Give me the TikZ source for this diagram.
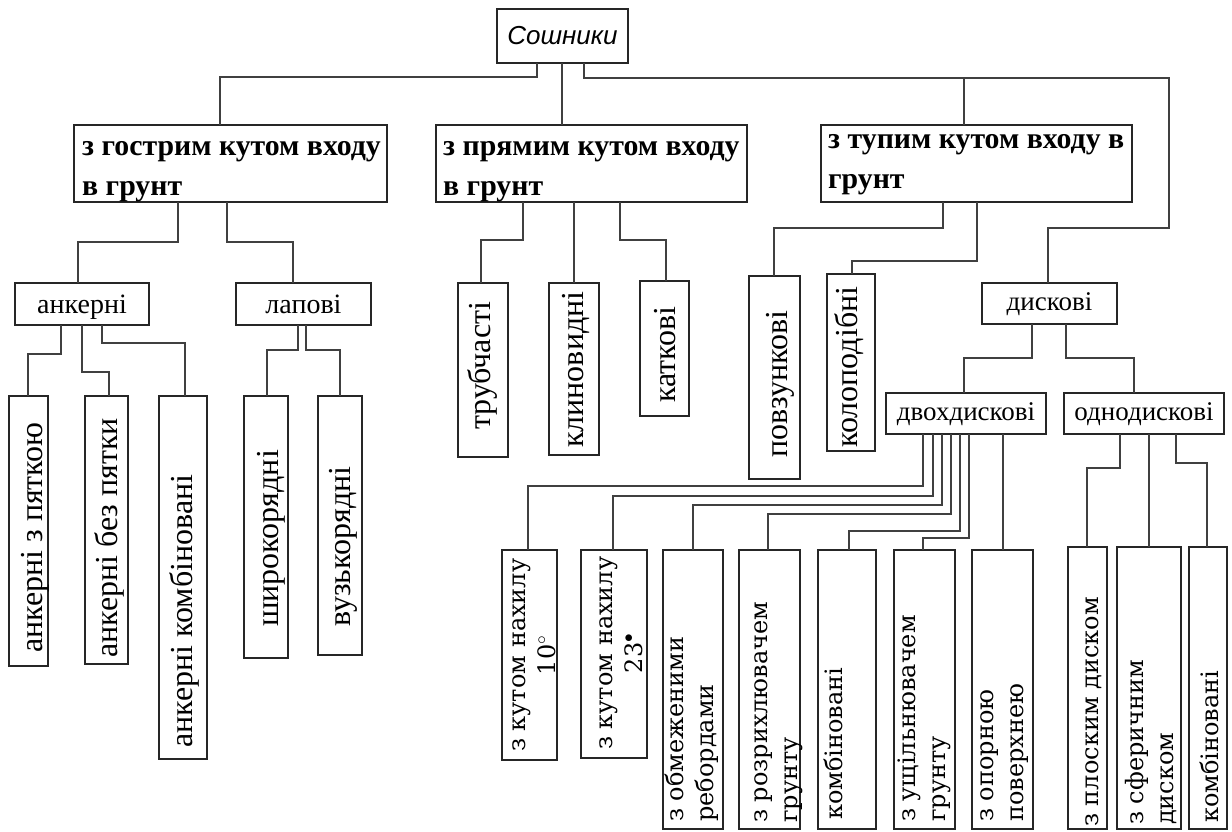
\documentclass[tikz,border=0pt]{standalone}
\usepackage{fontspec}
\setmainfont{Liberation Serif}
\newfontfamily\dvs{DejaVu Serif}
\newfontfamily\lsans{Liberation Sans}
\tikzset{
 box/.style={draw=black!85, line width=1.8pt, inner sep=0pt, outer sep=0pt},
 conn/.style={draw=black!75, line width=1.3pt},
 vt/.style={rotate=90, anchor=base west, inner sep=0pt, font=\fontsize{32}{38}\selectfont},
 vb/.style={rotate=90, anchor=north west, inner sep=0pt, align=left, font=\dvs\fontsize{24}{30}\selectfont},
 ht/.style={anchor=base, inner sep=0pt, font=\fontsize{28}{34}\selectfont},
 hs/.style={anchor=base, inner sep=0pt, font=\fontsize{27}{32}\selectfont},
 tl/.style={anchor=north west, inner sep=0pt, align=left, font=\bfseries\fontsize{29.8}{40}\selectfont},
}
\newcommand\bx[5]{\node[box, minimum width={#3-#1}, minimum height={#4-#2}] (#5) at ({(#1+#3)/2},{(#2+#4)/2}) {};}
\begin{document}
\begin{tikzpicture}[x=1pt,y=-1pt]
\fill[white] (0,0) rectangle (1232,831);
\useasboundingbox (0,0) rectangle (1232,831);

% root
\bx{497}{9}{628}{63}{root}
\node[font=\lsans\itshape\fontsize{26}{30}\selectfont, inner sep=0pt] (troot) at (root.center) {Сошники};

% level 1
\bx{74}{125}{387}{202}{b1}
\node[tl] (tb1) at ([xshift=8,yshift=-2]b1.north west) {\strut з гострим кутом входу\\в грунт};
\bx{436}{125}{747}{202}{b2}
\node[tl] (tb2) at ([xshift=7,yshift=-2]b2.north west) {\strut з прямим кутом входу\\в грунт};
\bx{821}{125}{1132}{202}{b3}
\node[tl] (tb3) at ([xshift=7,yshift=5]b3.north west) {\strut з тупим кутом входу в\\грунт};

% level 2 horizontal
\bx{15}{283}{149}{325}{ank}
\node[ht] (tank) at ([yshift=12]ank.south) {анкерні};
\bx{236}{283}{371}{325}{lap}
\node[ht] (tlap) at ([yshift=12]lap.south) {лапові};
\bx{982}{283}{1117}{324}{disk}
\node[hs] (tdisk) at ([yshift=14]disk.south) {дискові};
\bx{886}{393}{1046}{434}{dv}
\node[hs] (tdv) at ([yshift=14]dv.south) {двохдискові};
\bx{1064}{393}{1224}{434}{od}
\node[hs] (tod) at ([yshift=14]od.south) {однодискові};

% vertical upper boxes
\bx{9}{396}{48}{666}{a1}
\node[vt] (ta1) at ([xshift=33,yshift=13]a1.south west) {анкерні з пяткою};
\bx{85}{396}{128}{664}{a2}
\node[vt] (ta2) at ([xshift=32,yshift=6]a2.south west) {анкерні без пятки};
\bx{159}{396}{207}{759}{a3}
\node[vt] (ta3) at ([xshift=33,yshift=11]a3.south west) {анкерні комбіновані};
\bx{244}{396}{288}{658}{l1}
\node[vt] (tl1) at ([xshift=34,yshift=31]l1.south west) {широкорядні};
\bx{318}{396}{362}{655}{l2}
\node[vt] (tl2) at ([xshift=32,yshift=28]l2.south west) {вузькорядні};
\bx{458}{283}{508}{457}{tr}
\node[vt] (ttr) at ([xshift=32,yshift=27]tr.south west) {трубчасті};
\bx{549}{283}{599}{455}{kl}
\node[vt] (tkl) at ([xshift=34,yshift=7]kl.south west) {клиновидні};
\bx{640}{281}{689}{416}{kt}
\node[vt] (tkt) at ([xshift=35,yshift=13]kt.south west) {каткові};
\bx{749}{276}{800}{479}{pv}
\node[vt] (tpv) at ([xshift=38,yshift=21]pv.south west) {повзункові};
\bx{827}{274}{875}{451}{kp}
\node[vt] (tkp) at ([xshift=30,yshift=3]kp.south west) {колоподібні};

% vertical bottom boxes
\bx{502}{550}{557}{760}{n10}
\node[vb, align=center] (tn10) at ([xshift=2,yshift=8]n10.south west) {\strut з кутом нахилу\\10$^{\circ}$};
\bx{581}{550}{647}{758}{n23}
\node[vb, align=center] (tn23) at ([xshift=10,yshift=8]n23.south west) {\strut з кутом нахилу\\23$^{\bullet}$};
\bx{663}{550}{723}{829}{obm}
\node[vb] (tobm) at ([xshift=-1,yshift=7]obm.south west) {\strut з обмеженими\\ребордами};
\bx{739}{550}{800}{829}{rozr}
\node[vb] (trozr) at ([xshift=7,yshift=6]rozr.south west) {\strut з розрихлювачем\\грунту};
\bx{818}{550}{876}{829}{kb1}
\node[vb] (tkb1) at ([xshift=3,yshift=9]kb1.south west) {\strut комбіновані};
\bx{894}{550}{955}{829}{ush}
\node[vb] (tush) at ([xshift=0,yshift=7]ush.south west) {\strut з ущільнювачем\\грунту};
\bx{972}{550}{1033}{829}{op}
\node[vb] (top) at ([xshift=0,yshift=7]op.south west) {\strut з опорною\\поверхнею};
\bx{1068}{547}{1107}{829}{pl}
\node[vb] (tpl) at ([xshift=9,yshift=2]pl.south west) {\strut з плоским диском};
\bx{1117}{547}{1181}{829}{sf}
\node[vb] (tsf) at ([xshift=5,yshift=4]sf.south west) {\strut з сферичним\\диском};
\bx{1189}{547}{1227}{829}{kb2}
\node[vb] (tkb2) at ([xshift=8,yshift=6]kb2.south west) {\strut комбіновані};

% connectors from root
\draw[conn] ([xshift=40]root.south west) -- ++(0,14) -| ([xshift=146]b1.north west);
\draw[conn] ([xshift=65]root.south west) -- ([xshift=126]b2.north west);
\draw[conn] ([xshift=87]root.south west) -- ++(0,15) -| ([xshift=143]b3.north west);
\draw[conn] ([xshift=87]root.south west) -- ++(0,15) -- ++(585,0) -- ++(0,150) -| ([xshift=66]disk.north west);

% from b1
\draw[conn] ([xshift=104]b1.south west) -- ++(0,40) -| ([xshift=63]ank.north west);
\draw[conn] ([xshift=153]b1.south west) -- ++(0,40) -| ([xshift=57]lap.north west);
% from ank
\draw[conn] ([xshift=46]ank.south west) -- ++(0,29) -| ([xshift=19]a1.north west);
\draw[conn] ([xshift=67]ank.south west) -- ++(0,47) -| ([xshift=24]a2.north west);
\draw[conn] ([xshift=87]ank.south west) -- ++(0,18) -| ([xshift=26]a3.north west);
% from lap
\draw[conn] ([xshift=62]lap.south west) -- ++(0,25) -| ([xshift=23]l1.north west);
\draw[conn] ([xshift=70]lap.south west) -- ++(0,25) -| ([xshift=22]l2.north west);

% from b2
\draw[conn] ([xshift=87]b2.south west) -- ++(0,38) -| ([xshift=23]tr.north west);
\draw[conn] ([xshift=138]b2.south west) -- ([xshift=25]kl.north west);
\draw[conn] ([xshift=184]b2.south west) -- ++(0,38) -| ([xshift=26]kt.north west);

% from b3
\draw[conn] ([xshift=122]b3.south west) -- ++(0,26) -| ([xshift=25]pv.north west);
\draw[conn] ([xshift=156]b3.south west) -- ++(0,59) -| ([xshift=25]kp.north west);

% from disk
\draw[conn] ([xshift=50]disk.south west) -- ++(0,34) -| ([xshift=78]dv.north west);
\draw[conn] ([xshift=84]disk.south west) -- ++(0,34) -| ([xshift=70]od.north west);

% from dv
\draw[conn] ([xshift=37]dv.south west) -- ++(0,52) -| ([xshift=26]n10.north west);
\draw[conn] ([xshift=47]dv.south west) -- ++(0,62) -| ([xshift=32]n23.north west);
\draw[conn] ([xshift=56]dv.south west) -- ++(0,71) -| ([xshift=30]obm.north west);
\draw[conn] ([xshift=65]dv.south west) -- ++(0,80) -| ([xshift=29]rozr.north west);
\draw[conn] ([xshift=74]dv.south west) -- ++(0,97) -| ([xshift=31]kb1.north west);
\draw[conn] ([xshift=83]dv.south west) -- ++(0,104) -| ([xshift=29]ush.north west);
\draw[conn] ([xshift=117]dv.south west) -- ([xshift=31]op.north west);

% from od
\draw[conn] ([xshift=56]od.south west) -- ++(0,34) -| ([xshift=19]pl.north west);
\draw[conn] ([xshift=85]od.south west) -- ([xshift=32]sf.north west);
\draw[conn] ([xshift=112]od.south west) -- ++(0,29) -| ([xshift=18]kb2.north west);
\end{tikzpicture}
\end{document}
